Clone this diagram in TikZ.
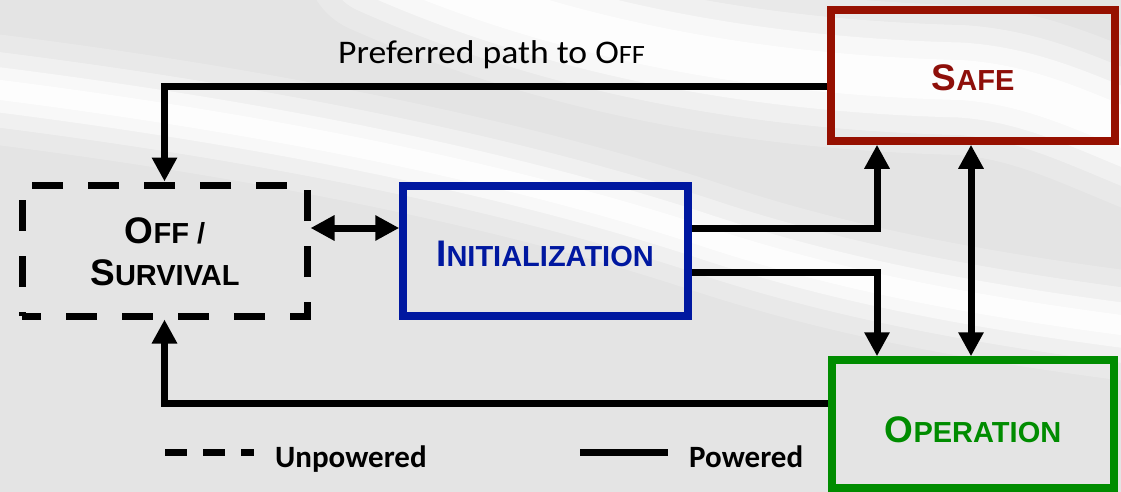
\documentclass[tikz,border=0pt]{standalone}
\usepackage{fontspec}
\usepackage{graphicx}
\setmainfont{Liberation Sans}
\newfontfamily\calfont{Carlito}
\usetikzlibrary{arrows.meta}
\definecolor{bggray}{HTML}{E4E4E4}
\definecolor{safered}{HTML}{961000}
\definecolor{safetext}{HTML}{8E0F0A}
\definecolor{initblue}{HTML}{0018A0}
\definecolor{opgreen}{HTML}{008C00}
\newcommand\bigsmall[2]{{\fontsize{37}{42}\selectfont #1}{\fontsize{29}{42}\selectfont #2}}
\begin{document}
\begin{tikzpicture}[x=1pt,y=-1pt,
  box/.style={draw, line width=7.5pt, inner sep=0pt, anchor=center},
  lbl/.style={anchor=base, inner sep=0pt, font=\bfseries},
  conn/.style={line width=7pt, line join=miter, -{Triangle[length=24pt,width=24pt]}},
  biconn/.style={line width=7pt, line join=miter, {Triangle[length=24pt,width=24pt]}-{Triangle[length=24pt,width=24pt]}},
  swoosh/.style={white, line cap=round, line join=round}]
\useasboundingbox (0,0) rectangle (1121,492);
\fill[bggray] (0,0) rectangle (1121,492);
% background swooshes
\begin{scope}
\clip (0,0) rectangle (1121,492);
\foreach \w/\o in {150/0.2,110/0.35,75/0.55,40/0.8}{
  \draw[swoosh, line width=\w pt, opacity=\o] (380,-40) .. controls (560,40) and (760,75) .. (960,80) .. controls (1040,85) and (1100,120) .. (1180,150);
}
\foreach \w/\o in {110/0.2,75/0.35,45/0.55,20/0.8}{
  \draw[swoosh, line width=\w pt, opacity=\o] (-40,85) .. controls (250,120) and (500,170) .. (700,235) .. controls (850,285) and (1000,310) .. (1160,330);
}
\end{scope}
% boxes
\node[box, draw=safered, minimum width=284pt, minimum height=131pt] (safe) at (973,75.5) {};
\node[box, draw=initblue, minimum width=285pt, minimum height=130pt] (init) at (545.5,251) {};
\node[box, draw=opgreen, minimum width=282pt, minimum height=128pt] (op) at (973,424) {};
\node[box, dash pattern=on 31pt off 25pt, dash phase=12pt, line width=7pt, minimum width=285pt, minimum height=131pt] (off) at (164.5,250.5) {};
% labels
\node[lbl, text=safetext] (safelbl) at (973,91) {\bigsmall{S}{AFE}};
\node[lbl, text=initblue] (initlbl) at (545,266) {\bigsmall{I}{NITIALIZATION}};
\node[lbl, text=opgreen] (oplbl) at (973,442) {\bigsmall{O}{PERATION}};
\node[lbl] (offlbl) at (165,243) {\bigsmall{O}{FF /}};
\node[lbl] (survlbl) at (165,285) {\bigsmall{S}{URVIVAL}};
\node[anchor=base west, inner sep=0pt] (pref) at (338,64) {\calfont\scalebox{1.08}[1]{\fontsize{33}{40}\selectfont Preferred path to O{\fontsize{26.4}{40}\selectfont FF}}};
% helper coordinates
\coordinate (yhi) at (0,87);
\coordinate (ylo) at (0,403);
\coordinate (ymid) at (0,228);
\coordinate (ylow) at (0,272);
\coordinate (xv) at (877,0);
\coordinate (xs) at (971,0);
% connectors
\draw[conn] (safe.west |- yhi) -| (off.north);
\draw[conn] (op.west |- ylo) -| (off.south);
\draw[biconn] (off.east |- ymid) -- (init.west |- ymid);
\draw[conn] (init.east |- ymid) -| (xv |- safe.south);
\draw[conn] (init.east |- ylow) -| (xv |- op.north);
\draw[biconn] (xs |- safe.south) -- (xs |- op.north);
% legend
\coordinate (ld1) at (165,452.5);
\coordinate (ld2) at (254,452.5);
\coordinate (ls1) at (580,452.5);
\coordinate (ls2) at (668,452.5);
\draw[line width=7pt, dash pattern=on 22pt off 16pt] (ld1) -- (ld2);
\draw[line width=7pt] (ls1) -- (ls2);
\node[anchor=base west, inner sep=0pt, font=\calfont\bfseries\fontsize{31}{36}\selectfont] (unp) at (275,467) {Unpowered};
\node[anchor=base west, inner sep=0pt, font=\calfont\bfseries\fontsize{31}{36}\selectfont] (pow) at (689,467) {Powered};
\end{tikzpicture}
\end{document}
